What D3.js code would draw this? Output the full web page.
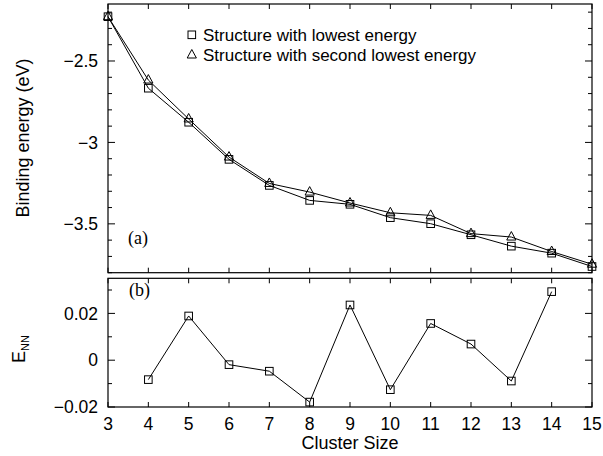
<!DOCTYPE html>
<html><head><meta charset="utf-8">
<script src="https://cdn.jsdelivr.net/npm/d3@7"></script>
<style>body{margin:0;background:#fff}svg text{font-family:"Liberation Sans",Arial,sans-serif}</style>
</head><body>
<svg id="c" width="603" height="456"></svg>
<script>
const sizes = [3,4,5,6,7,8,9,10,11,12,13,14,15];
const lowest = [-2.228,-2.667,-2.876,-3.104,-3.264,-3.356,-3.38,-3.462,-3.499,-3.567,-3.637,-3.68,-3.762];
const second = [-2.228,-2.617,-2.856,-3.09,-3.252,-3.305,-3.372,-3.432,-3.448,-3.56,-3.581,-3.67,-3.748];
const ennSizes = [4,5,6,7,8,9,10,11,12,13,14];
const enn = [-0.0083,0.0189,-0.0019,-0.0047,-0.0179,0.0236,-0.0126,0.0157,0.0069,-0.0089,0.0293];
const xTicks = [3,4,5,6,7,8,9,10,11,12,13,14,15];
const yTopTicks = [-2.5,-3,-3.5];
const yBotTicks = [0.02,0,-0.02];

const svg = d3.select("#c");
const L=108, R=592;
const x = d3.scaleLinear().domain([3,15]).range([L,R]);
const yT = d3.scaleLinear().domain([-3.8,-2.15]).range([272.7,4]);
const yB = d3.scaleLinear().domain([-0.02,0.035]).range([407,278.3]);
const fmt = d => d===0 ? "0" : d3.format("")(d).replace("-","\u2212");

function panel(y, majors, minorStep, labelSize){
  const g = svg.append("g");
  const [y0,y1] = y.range();
  g.append("rect").attr("x",L).attr("y",y1).attr("width",R-L).attr("height",y0-y1)
    .attr("fill","none").attr("stroke","#000").attr("stroke-width",1.2);
  const ax = g.append("g").attr("stroke","#000").attr("stroke-width",1);
  xTicks.forEach(t=>{
    ax.append("line").attr("x1",x(t)).attr("x2",x(t)).attr("y1",y0).attr("y2",y0-5);
    ax.append("line").attr("x1",x(t)).attr("x2",x(t)).attr("y1",y1).attr("y2",y1+5);
  });
  const [d0,d1] = y.domain();
  const minors = d3.range(Math.ceil(d0/minorStep-1e-6), Math.floor(d1/minorStep+1e-6)+1).map(k=>k*minorStep);
  minors.forEach(v=>{
    const isMajor = majors.some(m=>Math.abs(m-v)<1e-9);
    const len = isMajor?7:4;
    ax.append("line").attr("x1",L).attr("x2",L+len).attr("y1",y(v)).attr("y2",y(v));
    ax.append("line").attr("x1",R).attr("x2",R-len).attr("y1",y(v)).attr("y2",y(v));
  });
  majors.forEach(v=>{
    g.append("text").attr("x",L-10).attr("y",y(v)).attr("dy","0.35em")
      .attr("text-anchor","end").attr("font-size",labelSize).text(fmt(v));
  });
  return g;
}

panel(yT, yTopTicks, 0.1, 17.5);
panel(yB, yBotTicks, 0.01, 17.5);

xTicks.forEach(t=>{
  svg.append("text").attr("x",x(t)).attr("y",429.5).attr("text-anchor","middle")
    .attr("font-size",17.5).text(t);
});

function squares(g, xs, ys, y){
  g.selectAll(null).data(xs).enter().append("rect")
    .attr("x",(d)=>x(d)-3.8).attr("y",(d,i)=>y(ys[i])-3.8).attr("width",7.6).attr("height",7.6)
    .attr("fill","none").attr("stroke","#000").attr("stroke-width",1);
}
function triangles(g, xs, ys, y){
  g.selectAll(null).data(xs).enter().append("path")
    .attr("d",(d,i)=>{const cx=x(d), cy=y(ys[i]); return `M${cx},${cy-5.5}L${cx+4.6},${cy+3}L${cx-4.6},${cy+3}Z`;})
    .attr("fill","none").attr("stroke","#000").attr("stroke-width",1);
}
const line = (y)=>d3.line().x(d=>x(d[0])).y(d=>y(d[1]));

const topG = svg.append("g");
topG.append("path").datum(sizes.map((s,i)=>[s,lowest[i]])).attr("d",line(yT))
  .attr("fill","none").attr("stroke","#000").attr("stroke-width",1);
topG.append("path").datum(sizes.map((s,i)=>[s,second[i]])).attr("d",line(yT))
  .attr("fill","none").attr("stroke","#000").attr("stroke-width",1);
squares(topG, sizes, lowest, yT);
triangles(topG, sizes, second, yT);

const botG = svg.append("g");
botG.append("path").datum(ennSizes.map((s,i)=>[s,enn[i]])).attr("d",line(yB))
  .attr("fill","none").attr("stroke","#000").attr("stroke-width",1);
squares(botG, ennSizes, enn, yB);

const lg = svg.append("g");
lg.append("rect").attr("x",188).attr("y",31).attr("width",7.6).attr("height",7.6)
  .attr("fill","none").attr("stroke","#000");
lg.append("path").attr("d","M191.8,49.5L196.4,58L187.2,58Z").attr("fill","none").attr("stroke","#000");
lg.append("text").attr("x",203).attr("y",41).attr("font-size",17).text("Structure with lowest energy");
lg.append("text").attr("x",203).attr("y",61).attr("font-size",17).text("Structure with second lowest energy");

svg.append("text").attr("x",128).attr("y",244)
  .style("font-family","'Liberation Serif',serif").attr("font-size",18).text("(a)");
svg.append("text").attr("x",129).attr("y",296)
  .style("font-family","'Liberation Serif',serif").attr("font-size",18).text("(b)");

svg.append("text").attr("transform","translate(29,138) rotate(-90)").attr("text-anchor","middle")
  .attr("font-size",18).text("Binding energy (eV)");
const en = svg.append("text").attr("transform","translate(25,349) rotate(-90)").attr("text-anchor","middle")
  .attr("font-size",18);
en.append("tspan").text("E");
en.append("tspan").attr("font-size",11).attr("dy",4).text("NN");
svg.append("text").attr("x",(L+R)/2).attr("y",449).attr("text-anchor","middle")
  .attr("font-size",18).text("Cluster Size");
</script>
</body></html>
